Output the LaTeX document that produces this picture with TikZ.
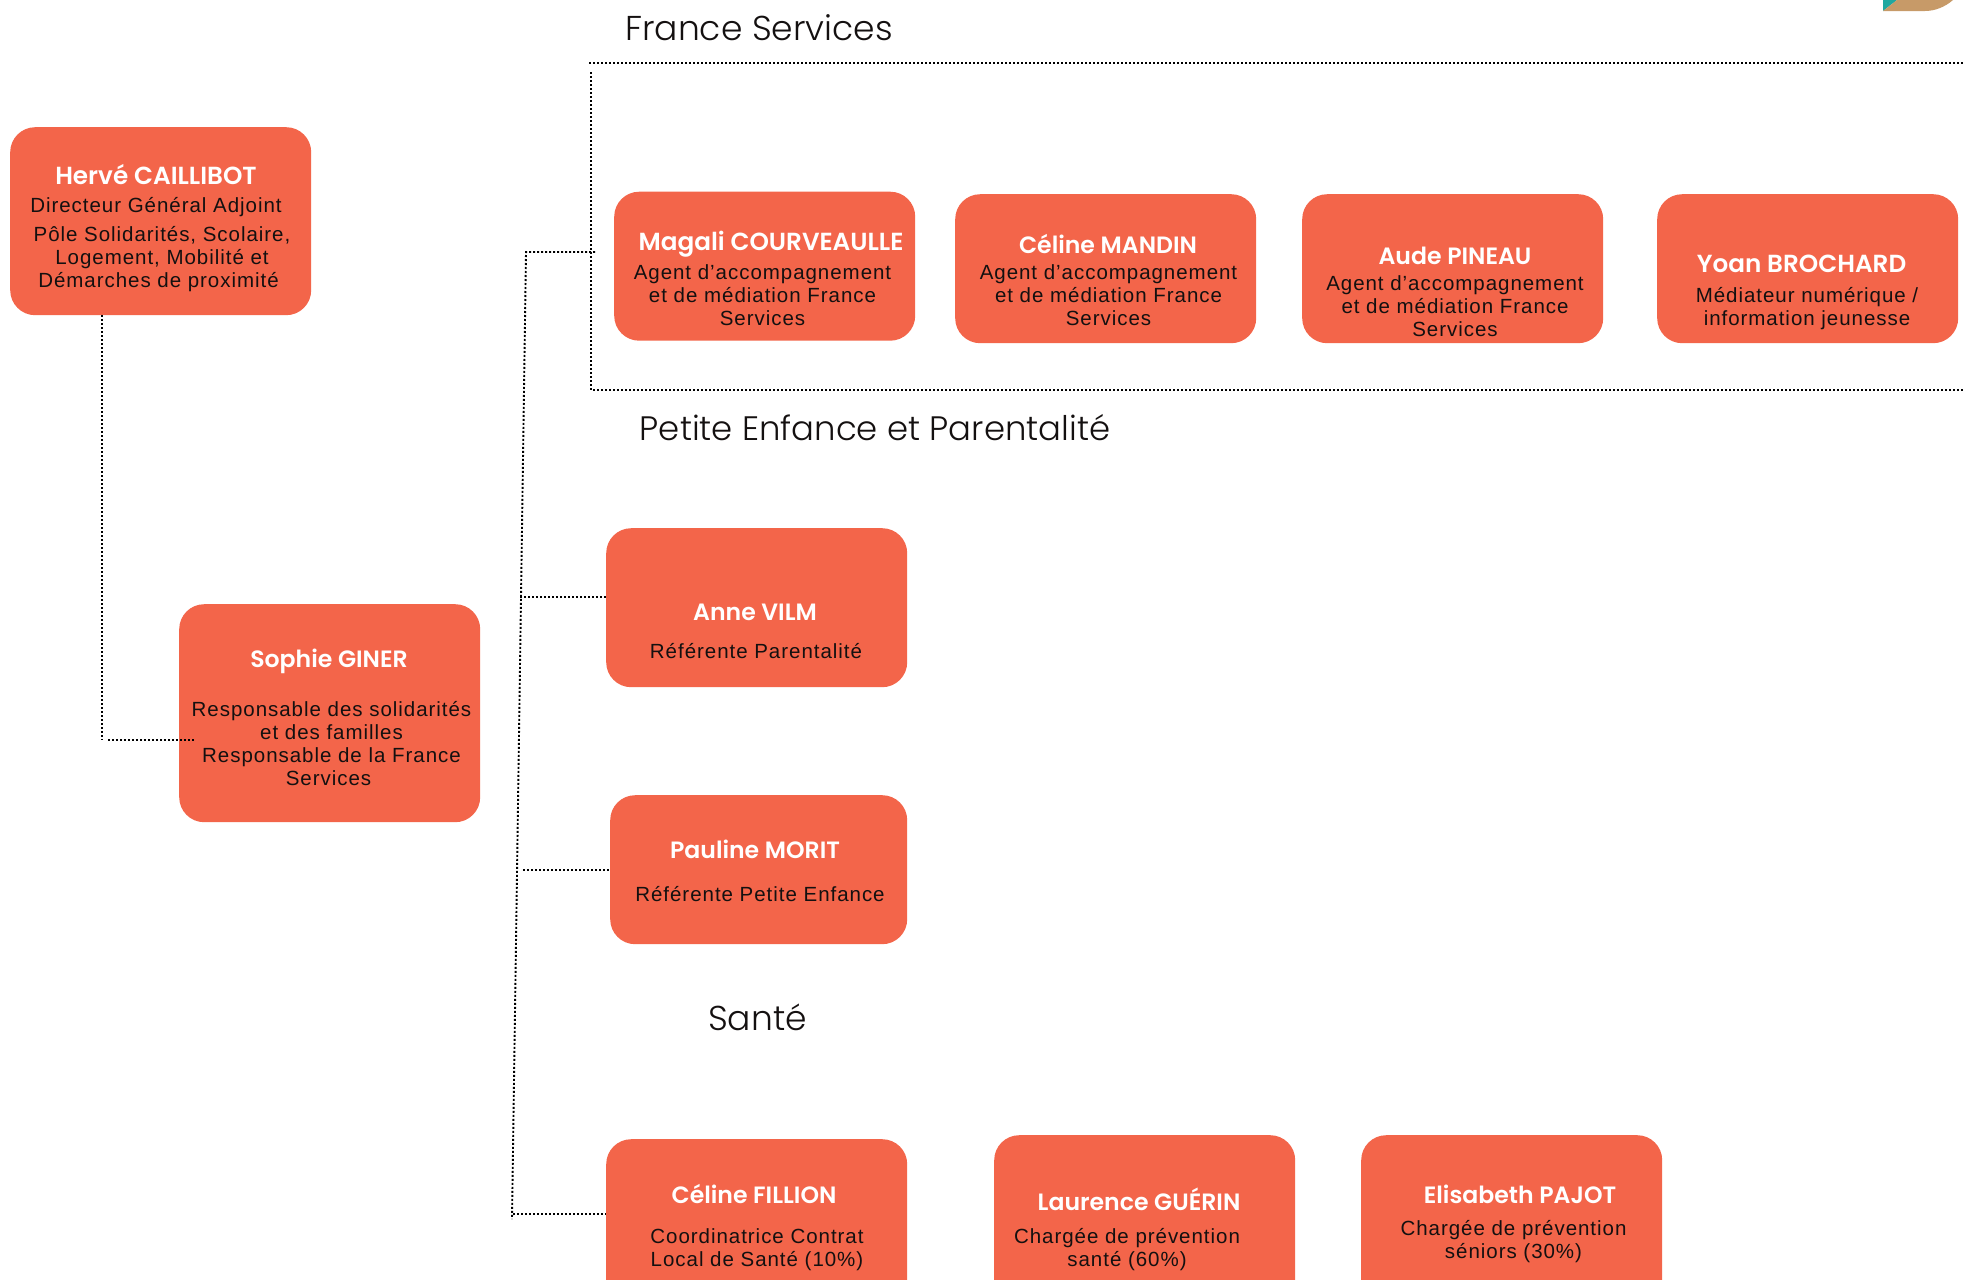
\documentclass[tikz,border=0pt]{standalone}
\usepackage{fontspec}
\setmainfont{Liberation Sans}[LetterSpace=4.7]
\newfontfamily\headfont{Poppins Light}
\newfontfamily\namefont{Poppins SemiBold}
\definecolor{boxfill}{HTML}{F3654A}
\definecolor{inktext}{HTML}{141010}
\definecolor{logoteal}{HTML}{1FA8A0}
\definecolor{logotan}{HTML}{C79A68}
\tikzset{
  card/.style={fill=boxfill,draw=none,rounded corners=25pt,anchor=north west,inner sep=0pt,minimum width=301pt},
  persona/.style={text=white,font=\namefont\fontsize{23.6}{27}\selectfont,inner sep=0pt},
  widename/.style={text=white,font=\namefont\fontsize{24.7}{27}\selectfont,inner sep=0pt},
  duty/.style={text=inktext,font=\fontsize{20.5}{23}\selectfont,align=center,inner sep=0pt},
  heading/.style={text=inktext,font=\headfont\fontsize{34.5}{40}\selectfont,inner sep=0pt},
  headingtight/.style={text=inktext,font=\headfont\fontsize{33.9}{40}\selectfont,inner sep=0pt},
  dots/.style={draw=black,line width=1.9pt,dash pattern=on 2pt off 2pt}
}
\begin{document}
\begin{tikzpicture}[x=1pt,y=-1pt]
\useasboundingbox (0,0) rectangle (1963,1280);
\clip (0,0) rectangle (1963,1280);
% logo fragment
\fill[logoteal] (1883,0) -- (1897,0) -- (1883,11) -- cycle;
\fill[logotan] (1883,11) -- (1897,0) -- (1953,0) .. controls (1945,7) and (1935,11) .. (1925,11) -- cycle;
% cards
\node[card,minimum height=188pt] (herve) at (10,127) {};
\node[card,minimum height=218pt] (sophie) at (179,604) {};
\node[card,minimum height=149pt] (magali) at (614,191.5) {};
\node[card,minimum height=149pt] (celinem) at (955,194) {};
\node[card,minimum height=149pt] (aude) at (1302,194) {};
\node[card,minimum height=149pt] (yoan) at (1657,194) {};
\node[card,minimum height=159pt] (anne) at (606,528) {};
\node[card,minimum height=149pt,minimum width=297pt] (pauline) at (610,795) {};
\node[card,minimum height=190pt] (fillion) at (606,1139) {};
\node[card,minimum height=190pt] (laurence) at (994,1135) {};
\node[card,minimum height=190pt] (elisabeth) at (1361,1135) {};
% connector coordinates
\coordinate (hdown) at (102,315);
\coordinate (hcorner) at (102,740);
\coordinate (hstart) at (108,740);
\coordinate (hend) at (195,740);
\coordinate (sptop) at (526,252);
\coordinate (spfs) at (595,252);
\coordinate (spbot) at (512,1219);
\coordinate (brA) at (520,597);
\coordinate (brP) at (523,870);
\coordinate (brF) at (513,1214);
\coordinate (ftl) at (589,63);
\coordinate (ftr) at (1963,63);
\coordinate (fls) at (591,72);
\coordinate (flb) at (591,390);
\coordinate (fbr) at (1963,390);
% connectors
\draw[dots] (hdown) -- (hcorner);
\draw[dots] (hstart) -- (hend);
\draw[dots] (spfs) -- (sptop) -- (spbot);
\draw[dots] (brA) -- (anne.west |- brA);
\draw[dots] (brP) -- (pauline.west |- brP);
\draw[dots] (brF) -- (fillion.west |- brF);
\draw[dots] (ftl) -- (ftr);
\draw[dots] (fls) -- (flb) -- (fbr);
% headings
\node[heading] (hfs) at (759,28) {France Services};
\node[headingtight] (hpe) at (875,428) {Petite Enfance et Parentalité};
\node[heading] (hsa) at (757.5,1017) {Santé};
% texts
\node[widename] (t1) at (156,175) {Hervé CAILLIBOT};
\node[duty] (d1a) at (156,207) {Directeur Général Adjoint};
\node[duty] (d1b) at (162,259.5) {Pôle Solidarités, Scolaire,\\Logement, Mobilité et\\\hspace*{-7pt}Démarches de proximité};
\node[persona] (t2) at (329,661.5) {Sophie GINER};
\node[duty] (d2) at (331.5,743.5) {Responsable des solidarités\\et des familles\\Responsable de la France\\\hspace*{-6pt}Services};
\node[widename] (t3) at (771,244.5) {Magali COURVEAULLE};
\node[duty] (d3) at (762.5,295) {Agent d’accompagnement\\et de médiation France\\Services};
\node[persona] (t4) at (1108,244) {Céline MANDIN};
\node[duty] (d4) at (1108.5,295) {Agent d’accompagnement\\et de médiation France\\Services};
\node[persona] (t5) at (1455,256) {Aude PINEAU};
\node[duty] (d5) at (1455,306) {Agent d’accompagnement\\et de médiation France\\Services};
\node[widename] (t6) at (1801.5,264) {Yoan BROCHARD};
\node[duty] (d6) at (1807,309) {Médiateur numérique /\\information jeunesse};
\node[persona] (t7) at (755,612) {Anne VILM};
\node[duty] (d7) at (756,651) {Référente Parentalité};
\node[persona] (t8) at (755,849) {Pauline MORIT};
\node[duty] (d8) at (760,894) {Référente Petite Enfance};
\node[persona] (t9) at (754,1194) {Céline FILLION};
\node[duty] (d9) at (757,1249.5) {Coordinatrice Contrat\\Local de Santé (10\%)};
\node[persona] (t10) at (1139,1199) {Laurence GUÉRIN};
\node[duty] (d10) at (1127,1249.5) {Chargée de prévention\\santé (60\%)};
\node[persona] (t11) at (1520,1194) {Elisabeth PAJOT};
\node[duty] (d11) at (1513.5,1242) {Chargée de prévention\\séniors (30\%)};
\end{tikzpicture}
\end{document}
